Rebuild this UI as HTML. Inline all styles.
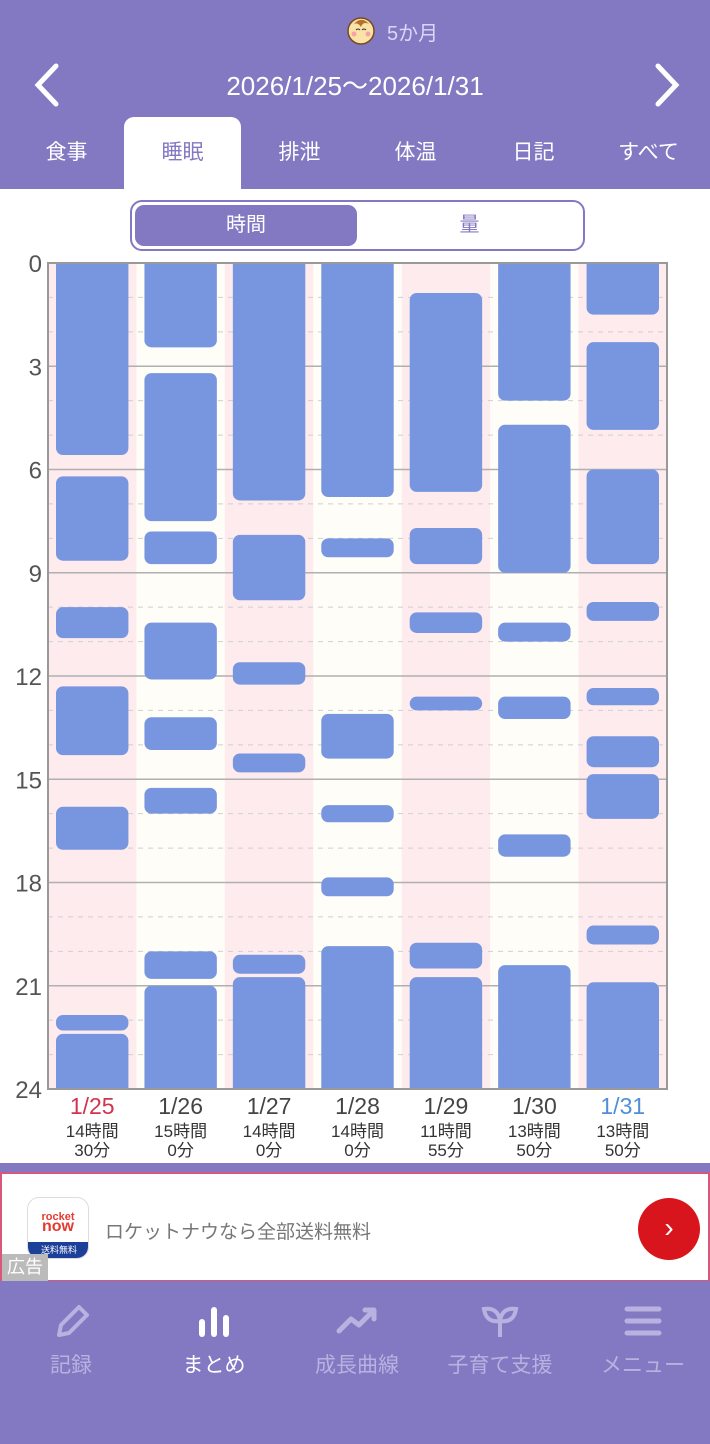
<!DOCTYPE html>
<html><head><meta charset="utf-8">
<style>
*{margin:0;padding:0;box-sizing:border-box}
body{width:710px;height:1444px;overflow:hidden;background:#fff;font-family:"Liberation Sans","Noto Sans CJK JP",sans-serif;position:relative}
.abs{position:absolute}
#hdr{left:0;top:0;width:710px;height:189px;background:#8378c2}
.tab{position:absolute;top:117px;width:117px;height:72px;color:#fff;font-size:21px;text-align:center;line-height:72px}
.nav{position:absolute;top:1281px;width:142px;height:163px;text-align:center;color:#b9b2e0;font-size:21px}
</style></head><body>
<div id="hdr" class="abs">
  <div class="abs" style="left:345px;top:15px;width:32px;height:30px">
    <svg width="32" height="30"><circle cx="16" cy="16" r="13" fill="#fbe3a8" stroke="#7a4a1c" stroke-width="1.5"/><path d="M8 10 Q16 0 24 9 Q18 6 16 12 Q12 6 8 10" fill="#b5712c"/><circle cx="9" cy="19" r="2.5" fill="#f6a3a8"/><circle cx="23" cy="19" r="2.5" fill="#f6a3a8"/><path d="M11 15 q2 -2 4 0 M17 15 q2 -2 4 0" stroke="#333" fill="none"/></svg>
  </div>
  <div class="abs" style="left:387px;top:17px;color:#dcd6f6;font-size:20px">5か月</div>
  <svg class="abs" style="left:30px;top:62px" width="32" height="46"><path d="M26 4 L8 23 L26 42" stroke="#fff" stroke-width="5" fill="none" stroke-linecap="round"/></svg>
  <div class="abs" style="left:0;top:66px;width:710px;text-align:center;color:#fff;font-size:26px">2026/1/25～2026/1/31</div>
  <svg class="abs" style="left:652px;top:62px" width="32" height="46"><path d="M6 4 L24 23 L6 42" stroke="#fff" stroke-width="5" fill="none" stroke-linecap="round"/></svg>
  <div class="tab" style="left:8px">食事</div>
  <div class="tab" style="left:124px;width:117px;background:#fff;color:#8378c2;border-radius:10px 10px 0 0">睡眠</div>
  <div class="tab" style="left:241px">排泄</div>
  <div class="tab" style="left:357px">体温</div>
  <div class="tab" style="left:475px">日記</div>
  <div class="tab" style="left:590px">すべて</div>
</div>
<div class="abs" style="left:130px;top:200px;width:455px;height:51px;border:2px solid #8378c2;border-radius:12px;background:#fff">
  <div class="abs" style="left:3px;top:3px;width:222px;height:41px;background:#8378c2;border-radius:9px;color:#fff;font-size:20px;text-align:center;line-height:41px">時間</div>
  <div class="abs" style="left:225px;top:3px;width:225px;height:41px;color:#8378c2;font-size:20px;text-align:center;line-height:41px">量</div>
</div>
<svg class="abs" style="left:0;top:0" width="710" height="1165" id="chart"></svg>
<div class="abs" style="left:0;top:1163px;width:710px;height:10px;background:#8378c2"></div>
<div class="abs" style="left:0;top:1172px;width:710px;height:110px;border:2px solid #d9577a;background:#fff">
  <div class="abs" style="left:25px;top:23px;width:62px;height:62px;border-radius:12px;background:#fff;border:1px solid #ddd;overflow:hidden">
    <div style="color:#e53b2f;font-size:11px;text-align:center;margin-top:14px;line-height:10px;font-weight:bold">rocket<br><span style="font-size:16px">now</span></div>
    <div class="abs" style="left:0;bottom:0;width:62px;height:16px;background:#1c3f99;color:#fff;font-size:9px;text-align:center;line-height:16px">送料無料</div>
  </div>
  <div class="abs" style="left:103px;top:43px;color:#777;font-size:19px">ロケットナウなら全部送料無料</div>
  <div class="abs" style="left:0;top:80px;width:46px;height:27px;background:#bbb;color:#fff;font-size:18px;text-align:center;line-height:27px">広告</div>
  <div class="abs" style="left:636px;top:24px;width:62px;height:62px;border-radius:50%;background:#d8151c;color:#fff;font-size:28px;text-align:center;line-height:60px">›</div>
</div>
<div class="abs" style="left:0;top:1281px;width:710px;height:163px;background:#8378c2"></div>
<div class="nav" style="left:0">
  <svg width="40" height="40" style="margin-top:20px"><path d="M8 34 L10 24 L28 6 L36 14 L18 32 Z" stroke="#b9b2e0" stroke-width="4" fill="none" stroke-linejoin="round"/></svg><div style="margin-top:2px">記録</div></div>
<div class="nav" style="left:143px;color:#fff">
  <svg width="40" height="40" style="margin-top:20px"><rect x="5" y="18" width="6" height="18" rx="3" fill="#fff"/><rect x="17" y="6" width="6" height="30" rx="3" fill="#fff"/><rect x="29" y="14" width="6" height="22" rx="3" fill="#fff"/></svg><div style="margin-top:2px">まとめ</div></div>
<div class="nav" style="left:286px">
  <svg width="44" height="40" style="margin-top:20px"><path d="M4 30 L16 18 L24 24 L38 10 M30 9 L39 9 L39 18" stroke="#b9b2e0" stroke-width="5" fill="none" stroke-linecap="round" stroke-linejoin="round"/></svg><div style="margin-top:2px">成長曲線</div></div>
<div class="nav" style="left:429px">
  <svg width="44" height="40" style="margin-top:20px"><path d="M22 36 L22 20 M22 20 Q8 22 6 8 Q20 6 22 20 Q24 6 38 8 Q36 22 22 20" stroke="#b9b2e0" stroke-width="4" fill="none"/></svg><div style="margin-top:2px">子育て支援</div></div>
<div class="nav" style="left:572px">
  <svg width="40" height="40" style="margin-top:20px"><path d="M4 8 H36 M4 20 H36 M4 32 H36" stroke="#b9b2e0" stroke-width="5" stroke-linecap="round"/></svg><div style="margin-top:2px">メニュー</div></div>

<script>
const dates=["1/25","1/26","1/27","1/28","1/29","1/30","1/31"];
const totals=[["14時間","30分"],["15時間","0分"],["14時間","0分"],["14時間","0分"],["11時間","55分"],["13時間","50分"],["13時間","50分"]];
const yTicks=[0,3,6,9,12,15,18,21,24];
const sleep1=[[0,5.58],[6.2,8.65],[10,10.9],[12.3,14.3],[15.8,17.05],[21.85,22.3],[22.4,24]];
const sleep2=[[0,2.45],[3.2,7.5],[7.8,8.75],[10.45,12.1],[13.2,14.15],[15.25,16],[20,20.8],[21,24]];
const sleep3=[[0,6.9],[7.9,9.8],[11.6,12.25],[14.25,14.8],[20.1,20.65],[20.75,24]];
const sleep4=[[0,6.8],[8,8.55],[13.1,14.4],[15.75,16.25],[17.85,18.4],[19.85,24]];
const sleep5=[[0.87,6.65],[7.7,8.75],[10.15,10.75],[12.6,13],[19.75,20.5],[20.75,24]];
const sleep6=[[0,4],[4.7,9],[10.45,11],[12.6,13.25],[16.6,17.25],[20.4,24]];
const sleep7=[[0,1.5],[2.3,4.85],[6,8.75],[9.85,10.4],[12.35,12.85],[13.75,14.65],[14.85,16.15],[19.25,19.8],[20.9,24]];
const series=[sleep1,sleep2,sleep3,sleep4,sleep5,sleep6,sleep7];

const L=48,R=667,T=263,B=1089;
const colW=(R-L)/dates.length;
const y=h=>T+h*(B-T)/24;
const x=i=>L+i*colW;
const NS="http://www.w3.org/2000/svg";
const svg=document.getElementById('chart');
function mk(t,a){const e=document.createElementNS(NS,t);for(const k in a)e.setAttribute(k,a[k]);svg.appendChild(e);return e;}
const defs=mk('defs',{});
const cp=document.createElementNS(NS,'clipPath');cp.setAttribute('id','pc');
const cr=document.createElementNS(NS,'rect');cr.setAttribute('x',L);cr.setAttribute('y',T);cr.setAttribute('width',R-L);cr.setAttribute('height',B-T);
cp.appendChild(cr);defs.appendChild(cp);
dates.forEach((d,i)=>{
  const bg=mk('rect',{x:x(i),y:T,width:colW,height:B-T,fill:i%2==0?'#fdebed':'#fffdf7'});
  
  
});
for(let h=1;h<24;h++){
  const ln=mk('line',{x1:L,x2:R,y1:y(h),y2:y(h),stroke:h%3==0?'#b0b0b0':'#d0d0d0','stroke-width':h%3==0?1.5:1,'stroke-dasharray':h%3==0?'':'5,5'});
  
  
}
const g=mk('g',{'clip-path':'url(#pc)'});
series.forEach((s,i)=>{
  s.forEach(([a,b])=>{
    const r=document.createElementNS(NS,'rect');
    const top=a===0?y(a)-10:y(a), bot=b===24?y(b)+10:y(b);
    r.setAttribute('x',x(i)+8);r.setAttribute('y',top);
    r.setAttribute('width',colW-16);r.setAttribute('height',bot-top);
    r.setAttribute('rx',7);r.setAttribute('fill','#7895df');
    
    
    g.appendChild(r);
  });
});
const fr=mk('rect',{x:L,y:T,width:R-L,height:B-T,fill:'none',stroke:'#999','stroke-width':2});


yTicks.forEach(t=>{
  const tx=mk('text',{x:42,y:y(t)+9,'text-anchor':'end','font-size':24,fill:'#555','font-family':'Liberation Sans, sans-serif'});
  tx.textContent=t;
  
  
});
dates.forEach((d,i)=>{
  const cx=x(i)+colW/2;
  const t=mk('text',{x:cx,y:1114,'text-anchor':'middle','font-size':23,fill:i==0?'#d2334f':(i==6?'#4f8fd8':'#444'),'font-family':'Liberation Sans, sans-serif'});
  t.textContent=d;
  
  
  totals[i].forEach((s,j)=>{
    const u=mk('text',{x:cx,y:1137+j*19,'text-anchor':'middle','font-size':17,fill:'#333','font-family':'Liberation Sans, Noto Sans CJK JP, sans-serif'});
    u.textContent=s;
    
    
  });
});
</script>
</body></html>
